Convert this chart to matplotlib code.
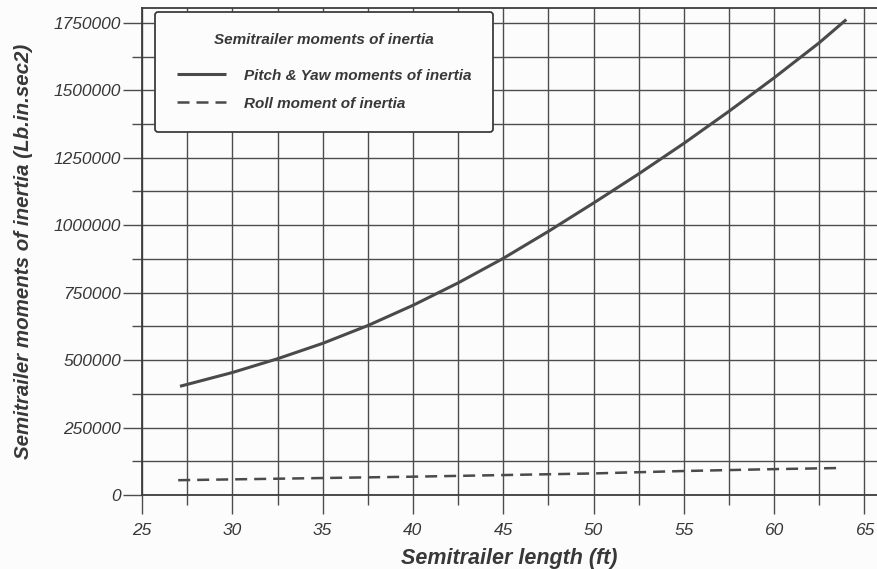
import matplotlib
matplotlib.use("Agg")
import matplotlib.pyplot as plt
import matplotlib.ticker as ticker

# semitrailer length (ft) and moments of inertia (Lb.in.sec2)
length_pitch = [27.1, 27.5, 30, 32.5, 35, 37.5, 40, 42.5, 45, 47.5, 50, 52.5, 55, 57.5, 60, 62.5, 64.0]
pitch_yaw = [403000, 410000, 454000, 505000, 562000, 628000, 703000, 786000, 877000,
             977000, 1082000, 1190000, 1303000, 1422000, 1546000, 1676000, 1762000]

length_roll = [27.0, 30, 35, 40, 45, 50, 55, 60, 63.5]
roll = [55000, 58000, 63000, 68000, 74000, 80000, 89000, 96000, 100000]

xticks = [25, 30, 35, 40, 45, 50, 55, 60, 65]
yticks = [0, 250000, 500000, 750000, 1000000, 1250000, 1500000, 1750000]

ink = '#383838'
font = 'Liberation Sans'

fig = plt.figure(figsize=(8.77, 5.69), dpi=100)
fig.patch.set_facecolor('#fcfcfc')
ax = fig.add_axes([0.162, 0.130, 0.838, 0.856])
ax.set_facecolor('#fcfcfc')

ax.plot(length_pitch, pitch_yaw, color='#4a4a4a', lw=2.2, label='Pitch & Yaw moments of inertia',
        solid_capstyle='butt', zorder=3)
ax.plot(length_roll, roll, color='#4a4a4a', lw=1.8, linestyle=(0, (4.8, 2.8)),
        label='Roll moment of inertia', zorder=3)

ax.set_xlim(25, 65.7)
ax.set_ylim(0, 1805000)

ax.xaxis.set_major_locator(ticker.FixedLocator(xticks))
ax.xaxis.set_minor_locator(ticker.MultipleLocator(2.5))
ax.yaxis.set_major_locator(ticker.FixedLocator(yticks))
ax.yaxis.set_minor_locator(ticker.MultipleLocator(125000))
ax.set_xticklabels([str(v) for v in xticks])
ax.set_yticklabels([str(v) for v in yticks])

ax.grid(True, which='both', color='#4d4d4d', lw=1.0)
ax.set_axisbelow(True)

ax.tick_params(which='major', direction='out', length=14, width=1.0, color='#4d4d4d')
ax.tick_params(which='minor', direction='out', length=7, width=1.0, color='#4d4d4d')
ax.tick_params(axis='x', pad=6)
ax.tick_params(axis='y', pad=1)
for lab in ax.get_xticklabels() + ax.get_yticklabels():
    lab.set_fontfamily(font)
    lab.set_fontstyle('italic')
    lab.set_fontsize(12.5)
    lab.set_color(ink)

for side in ['left', 'bottom', 'top']:
    ax.spines[side].set_color('#3d3d3d')
    ax.spines[side].set_linewidth(1.3)
ax.spines['right'].set_visible(False)

ax.set_xlabel('Semitrailer length (ft)', fontfamily=font, fontstyle='italic', fontweight='bold',
              fontsize=15.5, color=ink, labelpad=7)
ax.set_ylabel('Semitrailer moments of inertia (Lb.in.sec2)', fontfamily=font, fontstyle='italic',
              fontweight='bold', fontsize=14.8, color=ink, labelpad=15)

leg = ax.legend(loc='upper left', bbox_to_anchor=(0.018, 0.992), title='Semitrailer moments of inertia',
                prop={'family': font, 'style': 'italic', 'weight': 'bold', 'size': 11},
                title_fontproperties={'family': font, 'style': 'italic', 'weight': 'bold', 'size': 11},
                fancybox=True, framealpha=1, borderpad=1.4, labelspacing=0.9,
                handlelength=3.2, handletextpad=1.2, borderaxespad=0)
leg._legend_box.sep = 15.5  # extra room between title and entries
leg.get_frame().set_edgecolor('#3d3d3d')
leg.get_frame().set_linewidth(1.3)
leg.get_frame().set_facecolor('#fcfcfc')
for t in leg.get_texts():
    t.set_color(ink)
leg.get_title().set_color(ink)

plt.savefig('out.png', dpi=100, facecolor=fig.get_facecolor())
